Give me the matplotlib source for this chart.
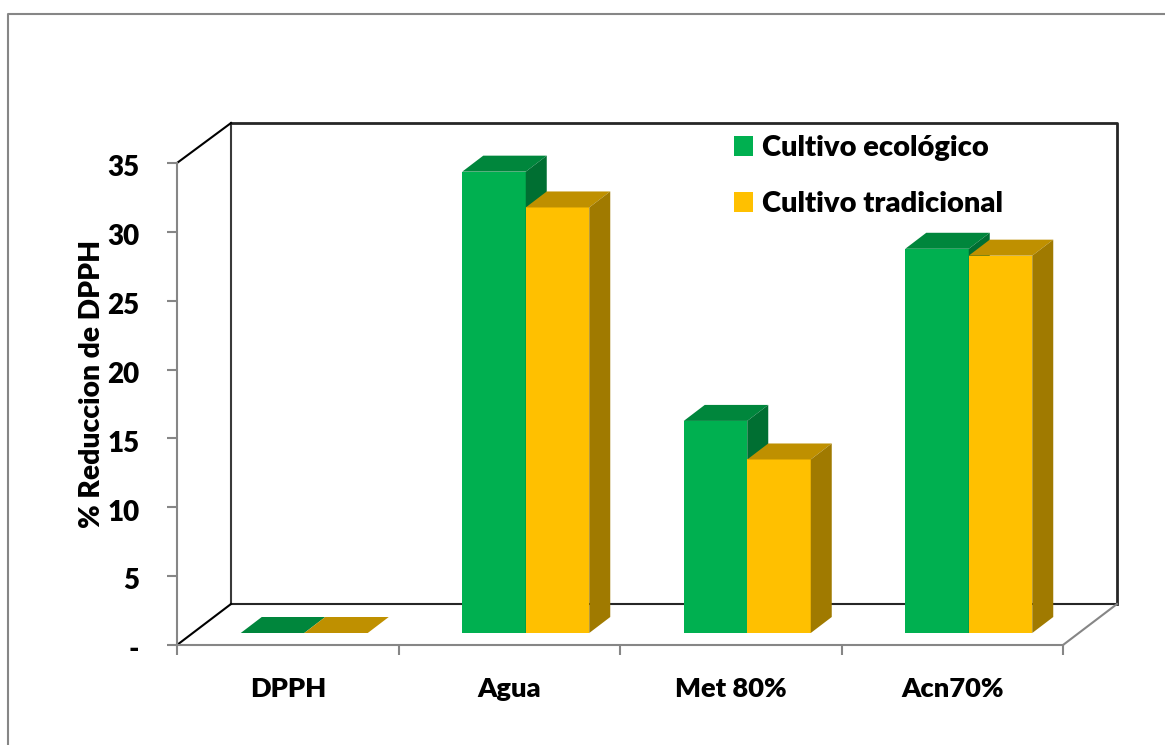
#!/usr/bin/env python3
"""Barras pseudo-3D: % reduccion de DPPH por extracto y cultivo."""

import matplotlib

matplotlib.use("Agg")
import matplotlib.pyplot as plt
from matplotlib.lines import Line2D
from matplotlib.patches import Patch
from matplotlib.transforms import ScaledTranslation

plt.rcParams["font.family"] = ["Lato", "DejaVu Sans"]
WEIGHT = 800
plt.rcParams["font.weight"] = WEIGHT

categories = ["DPPH", "Agua", "Met 80%", "Acn70%"]
ecologico = [0, 33.5, 15.4, 27.9]
tradicional = [0, 30.9, 12.6, 27.4]
y_ticks = [0, 5, 10, 15, 20, 25, 30, 35]
y_tick_labels = ["-", "5", "10", "15", "20", "25", "30", "35"]

W, H = 1165, 745
X0, X1 = 177, 1063  # front plane, pixels
Y0, Y1 = 645, 163
WALL_DX, WALL_DY = 54, 41  # front plane -> back wall
BAR_DX, BAR_DY = 16.5, 12  # front plane -> bar front face
DEPTH_DX, DEPTH_DY = 21, 16  # bar front -> bar back
BAR_W = 63.5

GREY = "#868686"

fig = plt.figure(figsize=(W / 100, H / 100), dpi=100)
ax = fig.add_axes([X0 / W, 1 - Y0 / H, (X1 - X0) / W, (Y0 - Y1) / H])
ax.set_xlim(0, len(categories))
ax.set_ylim(0, 35)
ax.patch.set_visible(False)

# pixel sizes in data units
px = len(categories) / (X1 - X0)
py = 35 / (Y0 - Y1)


def bar3d(x_left, value, front, top, side):
    """Front face plus the top and side faces, x_left and value in data units."""
    dx0, dy0 = BAR_DX * px, BAR_DY * py
    ddx, ddy = DEPTH_DX * px, DEPTH_DY * py
    w = BAR_W * px
    left = x_left + dx0
    low = dy0
    high = value + dy0
    ax.bar(left, value, width=w, bottom=low, align="edge", color=front,
           linewidth=0, clip_on=False, zorder=3)
    ax.fill([left, left + w, left + w + ddx, left + ddx],
            [high, high, high + ddy, high + ddy],
            color=top, linewidth=0, clip_on=False, zorder=3)
    if value > 0:
        ax.fill([left + w, left + w + ddx, left + w + ddx, left + w],
                [low, low + ddy, high + ddy, high],
                color=side, linewidth=0, clip_on=False, zorder=3)


for i in range(len(categories)):
    center = i + 0.5
    w = BAR_W * px
    bar3d(center - w, ecologico[i], "#00B050", "#00863C", "#006F32")
    bar3d(center, tradicional[i], "#FFC000", "#BF9000", "#A07A00")

# axis lines and ticks
for name in ("top", "right"):
    ax.spines[name].set_visible(False)
for name in ("left", "bottom"):
    ax.spines[name].set_color(GREY)
    ax.spines[name].set_linewidth(1.5)

ax.set_yticks(y_ticks)
ax.set_yticklabels(y_tick_labels, fontsize=20, fontweight=WEIGHT)
ax.tick_params(axis="y", length=7, width=1.5, color=GREY, pad=20)
nudge = ScaledTranslation(0, -2 / 72, fig.dpi_scale_trans)
for lab in ax.get_yticklabels():
    lab.set_transform(lab.get_transform() + nudge)

ax.set_xticks(range(len(categories) + 1))
ax.set_xticklabels([])
ax.tick_params(axis="x", which="major", length=7.5, width=1.5, color=GREY)
ax.set_xticks([i + 0.5 for i in range(len(categories))], minor=True)
ax.set_xticklabels(categories, minor=True, fontsize=19.6, fontweight=WEIGHT)
ax.tick_params(axis="x", which="minor", length=0, pad=23)

ax.set_ylabel("% Reduccion de DPPH", fontsize=20.3, fontweight=WEIGHT)
ax.yaxis.set_label_coords((105 - X0) / (X1 - X0), (Y0 - 384) / (Y0 - Y1))


def fig_line(xs, ys, color, lw):
    fig.add_artist(Line2D([x / W for x in xs], [1 - y / H for y in ys],
                          color=color, linewidth=lw, zorder=-1,
                          solid_capstyle="projecting"))


# back wall and floor
wall_l, wall_r = X0 + WALL_DX, X1 + WALL_DX
wall_t, wall_b = Y1 - WALL_DY + 1, Y0 - WALL_DY
fig_line([wall_l, wall_l], [wall_t, wall_b], "#3a3a3a", 1.5)
fig_line([wall_l, wall_r, wall_r], [wall_t, wall_t, wall_b], "#262626", 2)
fig_line([wall_l, wall_r], [wall_b, wall_b], "#262626", 1.5)
fig_line([X0, wall_l], [Y1, wall_t], "black", 1.5)
fig_line([X0, wall_l], [Y0, wall_b], "black", 1.5)
fig_line([X1, wall_r], [Y0, wall_b], GREY, 1.5)

# chart area border, cut by the image on the right and bottom
fig_line([8, 8, W], [H, 13.5, 13.5], GREY, 1.5)

handles = [Patch(color="#00B050", linewidth=0), Patch(color="#FFC000", linewidth=0)]
ax.legend(handles, ["Cultivo ecológico", "Cultivo tradicional"],
          loc="upper left", bbox_to_anchor=((734 - X0) / (X1 - X0), (Y0 - 135) / (Y0 - Y1)),
          borderaxespad=0, borderpad=0, frameon=False, fontsize=21,
          handlelength=0.66, handleheight=0.66, handletextpad=0.3, labelspacing=1.03)

fig.savefig("out.png", dpi=100)
